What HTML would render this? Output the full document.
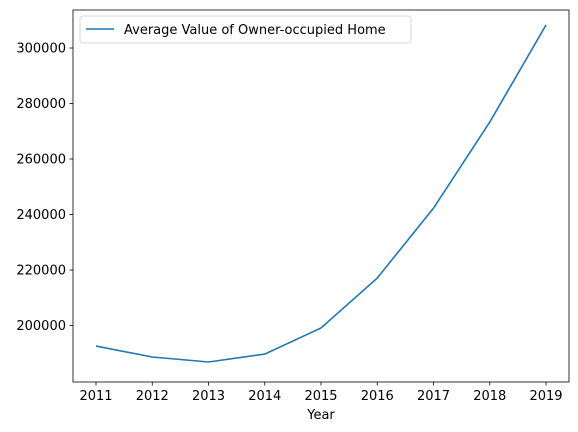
<!DOCTYPE html>
<html><head><meta charset="utf-8"><style>
html,body{margin:0;padding:0;background:#fff;}
svg{display:block;font-family:"DejaVu Sans","Liberation Sans",sans-serif;}
</style></head><body>
<svg id="chart" width="578" height="432"></svg>
<script>
const years = [2011,2012,2013,2014,2015,2016,2017,2018,2019];
const values = [192600,188650,186850,189700,199100,217100,242300,273300,308300];
const yTicks = [200000,220000,240000,260000,280000,300000];
const seriesLabel = "Average Value of Owner-occupied Home";

const L=73,R=569,T=10,B=382;
const yMin=179640,yMax=313700;
const x = v => 96 + (v-2011)*(546-96)/8;
const y = v => B - (v-yMin)*(B-T)/(yMax-yMin);
const NS="http://www.w3.org/2000/svg";
const svg=document.getElementById('chart');
function mk(tag,attrs,parent){const e=document.createElementNS(NS,tag);for(const k in attrs)e.setAttribute(k,attrs[k]);(parent||svg).appendChild(e);return e;}

const frame=mk('rect',{x:L,y:T,width:R-L,height:B-T,fill:'none',stroke:'#000','stroke-width':0.8});



years.forEach(yr=>{
  const t=mk('line',{x1:x(yr),x2:x(yr),y1:B,y2:B+3.5,stroke:'#000','stroke-width':0.8});
  
  
  const l=mk('text',{x:x(yr),y:B+18,'font-size':13,'text-anchor':'middle',fill:'#000'});
  l.textContent=yr;
  
  
});
yTicks.forEach(v=>{
  const t=mk('line',{x1:L-3.5,x2:L,y1:y(v),y2:y(v),stroke:'#000','stroke-width':0.8});
  
  
  const l=mk('text',{x:L-7,y:y(v)+4.5,'font-size':13,'text-anchor':'end',fill:'#000'});
  l.textContent=v;
  
  
});
const xt=mk('text',{x:(L+R)/2,y:B+37,'font-size':13,'text-anchor':'middle',fill:'#000'});
xt.textContent='Year';



const pts=years.map((yr,i)=>x(yr)+','+y(values[i])).join(' ');
const line=mk('polyline',{points:pts,fill:'none',stroke:'#1f77b4','stroke-width':1.6});



const lg=mk('g',{});


mk('rect',{x:80,y:16,width:331,height:27,rx:3,fill:'#fff',stroke:'#ccc','stroke-width':0.8},lg);
const ll=mk('line',{x1:86,x2:114,y1:29,y2:29,stroke:'#1f77b4','stroke-width':1.6},lg);


const lt=mk('text',{x:124,y:34,'font-size':13,fill:'#000'},lg);
lt.textContent=seriesLabel;


</script>
</body></html>
